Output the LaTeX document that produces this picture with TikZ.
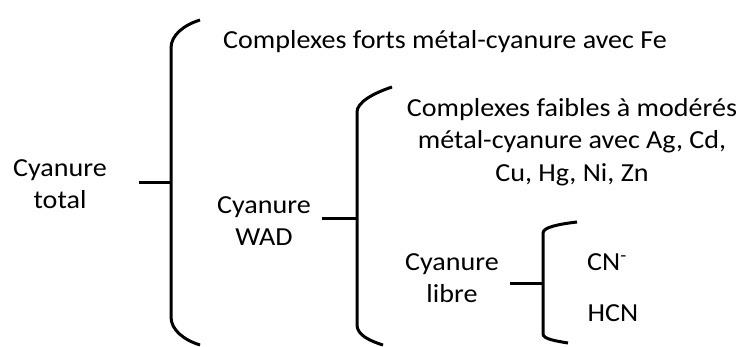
\documentclass[tikz,border=0pt]{standalone}
\usepackage{fontspec}
\setmainfont[FakeStretch=1.08]{Carlito}
\begin{document}
\begin{tikzpicture}[x=1pt,y=-1pt,
  lbl/.style={align=center, inner sep=0pt, font=\fontsize{26}{32.5}\selectfont},
  brace/.style={line width=3pt},
  stub/.style={line width=3pt}]
\useasboundingbox (0,0) rectangle (741,347);

% labels
\node[lbl] (total) at (60,184) {Cyanure\\total};
\node[lbl] (forts) at (445,42) {Complexes forts métal-cyanure avec Fe};
\node[lbl] (wad) at (264,221) {Cyanure\\WAD};
\node[lbl] (faibles) at (572,142) {Complexes faibles à modérés\\métal-cyanure avec Ag, Cd,\\Cu, Hg, Ni, Zn};
\node[lbl] (libre) at (452,278) {Cyanure\\libre};
\node[lbl] (cn) at (607,262) {CN\textsuperscript{-}};
\node[lbl] (hcn) at (613,313) {HCN};

% bracket attachment points
\coordinate (b1) at (171,183);
\coordinate (b2) at (357,219);
\coordinate (b3) at (543,283);

% brackets
\draw[brace] (200,20) .. controls (184,25) and (171,35) .. (171,48)
  -- (171,317) .. controls (171,330) and (184,340) .. (200,345);
\draw[brace] (392,87) .. controls (374,93) and (357,102) .. (357,112)
  -- (357,325) .. controls (357,335) and (370,341) .. (383,345);
\draw[brace] (577,222) .. controls (560,224) and (543,227) .. (543,233)
  -- (543,334) .. controls (543,339) and (556,341) .. (568,343);

% connectors
\draw[stub] (139,183) -- (b1);
\draw[stub] (322,219) -- (b2);
\draw[stub] (510,283) -- (b3);
\end{tikzpicture}
\end{document}
